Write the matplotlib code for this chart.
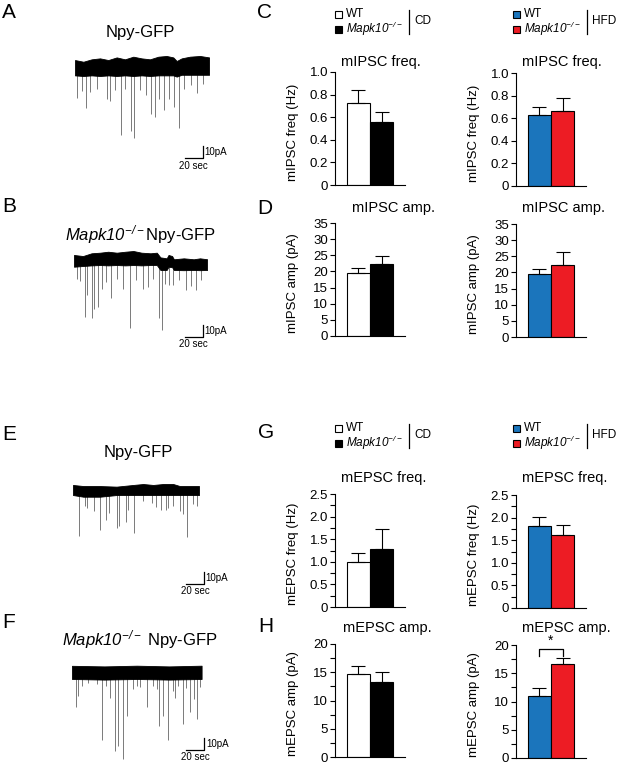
import numpy as np
import matplotlib
matplotlib.use("Agg")
from matplotlib import pyplot as plt
from matplotlib.patches import Rectangle
from matplotlib.lines import Line2D

plt.rcParams['font.family'] = ['Liberation Sans', 'DejaVu Sans']
plt.rcParams['mathtext.fontset'] = 'custom'
# mathtext only used for the italic gene name, so make every glyph italic
plt.rcParams['mathtext.rm'] = 'Liberation Sans:italic'
plt.rcParams['mathtext.it'] = 'Liberation Sans:italic'
plt.rcParams['mathtext.default'] = 'it'

# ---- bar data (mean, SEM) ----
groups = ["WT", "Mapk10-/-"]
ipsc_freq_cd = [0.73, 0.556]
ipsc_freq_cd_err = [0.115, 0.086]
ipsc_freq_hfd = [0.632, 0.662]
ipsc_freq_hfd_err = [0.068, 0.12]
ipsc_amp_cd = [19.4, 22.2]
ipsc_amp_cd_err = [1.6, 2.7]
ipsc_amp_hfd = [19.4, 22.2]
ipsc_amp_hfd_err = [1.6, 4.0]
epsc_freq_cd = [0.99, 1.29]
epsc_freq_cd_err = [0.2, 0.44]
epsc_freq_hfd = [1.82, 1.61]
epsc_freq_hfd_err = [0.2, 0.23]
epsc_amp_cd = [14.76, 13.3]
epsc_amp_cd_err = [1.34, 1.7]
epsc_amp_hfd = [10.95, 16.7]
epsc_amp_hfd_err = [1.45, 1.0]

# ---- traces: event times (s), amplitudes (pA), noise band edges (pA) ----
a_times = [1.8, 7.4, 12.1, 16.6, 24, 35, 38.6, 44, 51.5, 55, 61.8, 66, 71.8, 79, 84.7,
           88.7, 93.8, 98.6, 104.9, 109.6, 116, 121, 128.8, 136, 141.7]
a_amps = [24.7, 19, 33, 20.6, 17.8, 26, 27.5, 19, 56.7, 17.8, 54, 59.4, 19, 23, 38.6,
          42, 27.5, 37, 27.5, 33.6, 50.5, 19, 16.4, 23, 15]
a_edge_t = [0, 9.3, 18.5, 27.8, 37, 46.3, 55.5, 64.8, 74, 83.3, 92.6, 101.8, 109.2,
            113, 118.5, 127.7, 138.9, 149]
a_top = [5.8, 4.4, 6.4, 7.2, 5.8, 8, 6.4, 8.6, 7.2, 6.4, 8.6, 9.2, 8, 5, 7.2, 8.6, 9.2, 8]
a_bot = [-7, -7.5, -7, -7.5, -7, -7.5, -7, -7.5, -7, -7.5, -7, -7, -7, -8, -6.5,
         -6.5, -6.5, -6.5]

b_times = [3, 6.6, 12.1, 14.7, 19.5, 22, 26.9, 30.6, 36, 41.6, 47.8, 54.5, 61.9, 69.2,
           76.6, 82, 87.6, 94.2, 98, 101.6, 106, 109.7, 117, 124.4, 130, 136, 141]
b_amps = [15, 16.7, 47, 29, 48.6, 41.7, 40, 25, 19.4, 33, 16.7, 25, 58, 18,
          25, 23.6, 16.7, 47, 55, 17, 20, 19, 13, 21, 18, 21, 13]
b_edge_t = [0, 10, 19.5, 29, 38, 47.5, 57, 66, 75, 85, 92, 96, 103, 105, 109, 111,
            122, 133, 140, 148]
b_top = [4.2, 3.3, 5.6, 6.1, 6.9, 6.1, 6.9, 7.5, 6.1, 5.6, 6.1, 2.2, 1.4, 4.2, 3.3,
         0.6, 1.4, 0.6, 1.4, 0.6]
b_bot = [-5.6, -5, -4.5, -4.2, -4.5, -4.2, -4.5, -4.2, -4.5, -4.2, -4.2, -8.3, -8.3,
         -5.6, -6, -8.3, -8.5, -8.3, -8.5, -8.3]

e_times = [6.7, 13.3, 15.9, 23.7, 30, 36.7, 40.4, 48.5, 51.1, 58.9, 61.5, 68.1, 78.1,
           87.4, 92.2, 97.8, 103, 105.6, 111.5, 118.9, 121.9, 127, 133.7, 138.1]
e_amps = [37.5, 12.5, 13.9, 16.7, 32, 23.6, 18, 30.6, 29, 26.4, 16.7, 36, 9.7,
          11, 13.9, 16.7, 16.7, 15.3, 13.9, 16.7, 19.4, 39, 11, 12.5]
e_edge_t = [0, 11.5, 29.9, 48.4, 66.9, 78, 89.1, 100.2, 111.3, 118.7, 129.8, 140]
e_top = [4.2, 3.3, 3.3, 2.8, 4.2, 5, 4.2, 5, 5, 3.3, 3.3, 3.3]
e_bot = [-4.2, -5.6, -5.6, -4.2, -4.2, -4.2, -4.2, -4.2, -4.2, -4.2, -4.2, -4.2]

f_times = [4.4, 7, 10.7, 18.1, 27.4, 33, 37.8, 42.2, 47.8, 51.5, 56.3, 60.7, 68.1, 71.9,
           75.6, 83, 89.6, 94.1, 97, 101.5, 107, 111.9, 114.4, 118.1, 123, 126.7, 131.1,
           135.6, 139.3, 142.2]
f_amps = [29, 19.4, 11, 8.3, 9.7, 55.6, 11, 20.8, 65.3, 61, 72, 36, 13.9, 11,
          12.5, 29, 11, 13.9, 44, 36, 55.6, 15.3, 20.8, 11, 43, 12.5, 33,
          22, 39, 12.5]
f_edge_t = [0, 36, 72, 108, 144]
f_top = [6, 5.5, 6.1, 5.5, 6.1]
f_bot = [-5, -5.5, -5, -5.5, -5]

W, H = 617, 764
SEC = 0.9   # px per second
PA = 1.2    # px per pA

fig = plt.figure(figsize=(W / 100, H / 100), dpi=100)


def px_rect(x, y, w, h):
    return [x / W, 1 - (y + h) / H, w / W, h / H]


def ftext(x, y, s, **kw):
    fig.text(x / W, 1 - y / H, s, **kw)


def draw_trace(x0, ybase, T, times, amps, et, top, bot, corner):
    ax = fig.add_axes(px_rect(x0, ybase - 14 * PA, T * SEC, 104 * PA))
    ax.set_xlim(0, T)
    ax.set_ylim(-90, 14)
    ax.axis('off')
    top = np.array(top, float)
    bot = np.array(bot, float)
    mid = np.interp(times, et, (top + bot) / 2)
    ax.vlines(times, mid - np.array(amps), mid, color='#7a7a7a', lw=0.7)
    ax.fill_between(et, bot, top, color='black', lw=0.6, zorder=3)
    cx, cy = corner
    ax.plot([cx - 20, cx, cx], [cy, cy, cy + 10], color='black', lw=0.9, clip_on=False)
    ax.text(cx + 2, cy + 5, '10pA', fontsize=7, ha='left', va='center')
    ax.text(cx - 10, cy - 2, '20 sec', fontsize=7, ha='center', va='top')
    return ax


draw_trace(75, 67, 149, a_times, a_amps, a_edge_t, a_top, a_bot, (142, -76))
draw_trace(74, 260, 148, b_times, b_amps, b_edge_t, b_top, b_bot, (143, -64))
draw_trace(73, 490, 140, e_times, e_amps, e_edge_t, e_top, e_bot, (145.5, -78))
draw_trace(72, 673, 144, f_times, f_amps, f_edge_t, f_top, f_bot, (146.7, -64))

ko_label = r"$Mapk10^{-/-}$"
ftext(140, 32, "Npy-GFP", fontsize=12, ha='center', va='center')
ftext(140, 235, ko_label + "Npy-GFP", fontsize=12, ha='center', va='center')
ftext(138, 452, "Npy-GFP", fontsize=12, ha='center', va='center')
ftext(140, 640, ko_label + " Npy-GFP", fontsize=12, ha='center', va='center')

for letter, x, y in [("A", 2, 13), ("B", 2, 207), ("E", 2, 435), ("F", 2, 623),
                     ("C", 257, 13), ("D", 257, 208), ("G", 258, 433), ("H", 258, 627)]:
    ftext(x, y, letter, fontsize=15, ha='left', va='center')

cd_colors = ['white', 'black']
hfd_colors = ['#1b75bc', '#ed1c24']


def bar_panel(x, y, vals, errs, colors, top, ticks, ticklabels, ylabel, title,
              title_y, title_dx=6, minor=None):
    ax = fig.add_axes(px_rect(x, y, 70, 113))
    xs = np.arange(len(vals))
    ax.bar(xs, vals, width=1.0, color=colors, edgecolor='black', linewidth=0.8, zorder=2)
    ax.errorbar(xs, vals, yerr=[np.zeros(len(errs)), errs], fmt='none', ecolor='black',
                elinewidth=0.8, capsize=5, capthick=0.8, zorder=3)
    ax.set_xlim(-1.0, 2.0)
    ax.set_ylim(0, top)
    for s in ['top', 'right']:
        ax.spines[s].set_visible(False)
    ax.spines['left'].set_linewidth(0.8)
    ax.spines['bottom'].set_linewidth(0.8)
    ax.set_xticks([])
    ax.set_yticks(ticks)
    ax.set_yticklabels(ticklabels)
    if minor is not None:
        ax.set_yticks(minor, minor=True)
    ax.tick_params(axis='y', which='both', direction='out', length=3.5, width=0.8,
                   labelsize=9.5, pad=1.5)
    ftext(x - 42, y + 60, ylabel, fontsize=9.5, rotation=90, ha='center', va='center')
    ftext(x + title_dx, title_y, title, fontsize=10.5, ha='left', va='center')
    return ax


freq_ticks = [0, 0.2, 0.4, 0.6, 0.8, 1.0]
freq_labels = ['0', '0.2', '0.4', '0.6', '0.8', '1.0']
iamp_ticks = [0, 5, 10, 15, 20, 25, 30, 35]
iamp_labels = [str(t) for t in iamp_ticks]
efreq_ticks = [0, 0.5, 1.0, 1.5, 2.0, 2.5]
efreq_labels = ['0', '0.5', '1.0', '1.5', '2.0', '2.5']
efreq_minor = [0.25, 0.75, 1.25, 1.75, 2.25]
eamp_ticks = [0, 5, 10, 15, 20]
eamp_labels = [str(t) for t in eamp_ticks]
eamp_minor = [2.5, 7.5, 12.5, 17.5]

bar_panel(335, 72, ipsc_freq_cd, ipsc_freq_cd_err, cd_colors, 1.0, freq_ticks, freq_labels,
          "mIPSC freq (Hz)", "mIPSC freq.", 62)
bar_panel(516, 73, ipsc_freq_hfd, ipsc_freq_hfd_err, hfd_colors, 1.0, freq_ticks, freq_labels,
          "mIPSC freq (Hz)", "mIPSC freq.", 62)
bar_panel(335, 223, ipsc_amp_cd, ipsc_amp_cd_err, cd_colors, 35, iamp_ticks, iamp_labels,
          "mIPSC amp (pA)", "mIPSC amp.", 208, title_dx=17)
bar_panel(516, 224, ipsc_amp_hfd, ipsc_amp_hfd_err, hfd_colors, 35, iamp_ticks, iamp_labels,
          "mIPSC amp (pA)", "mIPSC amp.", 208)
bar_panel(335, 494, epsc_freq_cd, epsc_freq_cd_err, cd_colors, 2.5, efreq_ticks, efreq_labels,
          "mEPSC freq (Hz)", "mEPSC freq.", 478, minor=efreq_minor)
bar_panel(516, 495, epsc_freq_hfd, epsc_freq_hfd_err, hfd_colors, 2.5, efreq_ticks, efreq_labels,
          "mEPSC freq (Hz)", "mEPSC freq.", 478, minor=efreq_minor)
bar_panel(335, 644, epsc_amp_cd, epsc_amp_cd_err, cd_colors, 20, eamp_ticks, eamp_labels,
          "mEPSC amp (pA)", "mEPSC amp.", 628, title_dx=8, minor=eamp_minor)
axh = bar_panel(516, 645, epsc_amp_hfd, epsc_amp_hfd_err, hfd_colors, 20, eamp_ticks,
                eamp_labels, "mEPSC amp (pA)", "mEPSC amp.", 628, minor=eamp_minor)
axh.plot([0, 0, 1, 1], [18.1, 19.3, 19.3, 18.1], color='black', lw=0.9, clip_on=False)
axh.text(0.5, 20.7, '*', fontsize=10, ha='center', va='center')


def legend_block(x, y, colors, diet):
    for i, (c, lab) in enumerate(zip(colors, ["WT", ko_label])):
        yy = y + 15 * i
        fig.add_artist(Rectangle((x / W, 1 - (yy + 3.5) / H), 7 / W, 7 / H,
                                 facecolor=c, edgecolor='black', lw=0.8))
        ftext(x + 11, yy, lab, fontsize=8.5, ha='left', va='center')
    lx = x + 74
    fig.add_artist(Line2D([lx / W, lx / W], [1 - (y - 4) / H, 1 - (y + 20) / H],
                          color='black', lw=0.9))
    ftext(lx + 5, y + 7, diet, fontsize=8.5, ha='left', va='center')


legend_block(335, 14, cd_colors, "CD")
legend_block(513, 14, hfd_colors, "HFD")
legend_block(335, 428, cd_colors, "CD")
legend_block(513, 428, hfd_colors, "HFD")

fig.savefig("out.png", dpi=100)
